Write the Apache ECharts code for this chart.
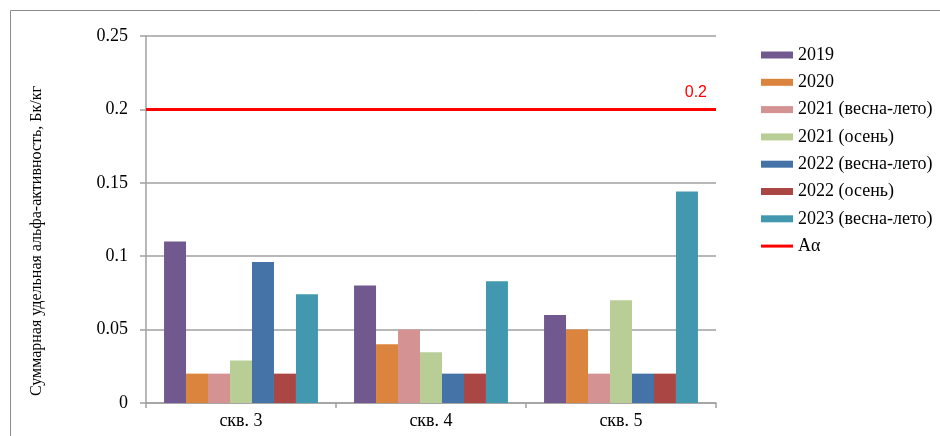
<!DOCTYPE html>
<html>
<head>
<meta charset="utf-8">
<script src="https://cdn.jsdelivr.net/npm/echarts@6/dist/echarts.min.js"></script>
<style>
  html, body { margin: 0; padding: 0; background: #fff; }
  #myChart { width: 940px; height: 436px; }
</style>
</head>
<body>
<div id="myChart"></div>
<script>
// данные
const categories = ['скв. 3', 'скв. 4', 'скв. 5'];
const s2019 = [0.11, 0.08, 0.06];
const s2020 = [0.02, 0.04, 0.05];
const s2021spring = [0.02, 0.05, 0.02];
const s2021autumn = [0.029, 0.0345, 0.07];
const s2022spring = [0.096, 0.02, 0.02];
const s2022autumn = [0.02, 0.02, 0.02];
const s2023spring = [0.074, 0.083, 0.144];
const limitValue = 0.2;
const yMin = 0, yMax = 0.25, yStep = 0.05;

const serif = 'Liberation Serif';

const barSeries = [
  { name: '2019', data: s2019, color: '#71588F' },
  { name: '2020', data: s2020, color: '#DB843D' },
  { name: '2021 (весна-лето)', data: s2021spring, color: '#D49392' },
  { name: '2021 (осень)', data: s2021autumn, color: '#B9CD96' },
  { name: '2022 (весна-лето)', data: s2022spring, color: '#4572A7' },
  { name: '2022 (осень)', data: s2022autumn, color: '#AA4643' },
  { name: '2023 (весна-лето)', data: s2023spring, color: '#4298AF' },
];

const myChart = echarts.init(document.getElementById('myChart'));

const option = {
  animation: false,
  grid: { left: 146, right: 224, top: 36, bottom: 33 },
  graphic: [
    {
      type: 'rect',
      shape: { x: 10.5, y: 10.5, width: 1000, height: 1000 },
      style: { fill: 'none', stroke: '#8c8c8c', lineWidth: 1 },
      silent: true,
    },
    {
      type: 'text',
      x: 37,
      y: 241,
      rotation: Math.PI / 2,
      style: {
        text: 'Суммарная удельная альфа-активность, Бк/кг',
        fontFamily: serif,
        fontSize: 16,
        fill: '#000',
        align: 'center',
        verticalAlign: 'middle',
      },
      silent: true,
    },
  ],
  legend: {
    orient: 'vertical',
    left: 756,
    top: 41,
    itemWidth: 32,
    itemHeight: 7,
    itemGap: 9.3,
    textStyle: { fontFamily: serif, fontSize: 18, lineHeight: 17, color: '#000' },
    data: barSeries.map(s => ({ name: s.name, icon: 'rect' })).concat([
      { name: 'Aα', icon: 'path://M0,0H32V3H0Z' },
    ]),
  },
  xAxis: {
    type: 'category',
    data: categories,
    axisLine: { show: true, lineStyle: { color: '#a0a0a0', width: 1.5 } },
    axisTick: { show: true, length: 5, lineStyle: { color: '#a0a0a0', width: 1.5 } },
    axisLabel: { margin: 9, fontFamily: serif, fontSize: 18, color: '#000' },
  },
  yAxis: {
    type: 'value',
    min: yMin,
    max: yMax,
    interval: yStep,
    axisLine: { show: true, lineStyle: { color: '#a0a0a0', width: 1.5 } },
    axisTick: { show: true, length: 6, lineStyle: { color: '#a0a0a0', width: 1.5 } },
    axisLabel: { margin: 18, fontFamily: serif, fontSize: 18, color: '#000' },
    splitLine: { show: true, lineStyle: { color: '#a0a0a0', width: 1.5 } },
  },
  series: barSeries.map(s => ({
    name: s.name,
    type: 'bar',
    data: s.data,
    barGap: '0%',
    barCategoryGap: '19%',
    itemStyle: { color: s.color },
    emphasis: { disabled: true },
  })).concat([
    {
      name: 'Aα',
      type: 'line',
      data: [],
      symbol: 'none',
      itemStyle: { color: '#ff0000' },
      lineStyle: { color: '#ff0000', width: 3 },
      markLine: {
        silent: true,
        symbol: ['none', 'none'],
        lineStyle: { color: '#ff0000', width: 3, type: 'solid' },
        label: {
          show: true,
          position: 'insideEndTop',
          formatter: '0.2',
          color: '#ff0000',
          fontFamily: 'Liberation Sans',
          fontSize: 16,
          distance: [9, 9],
        },
        data: [{ yAxis: limitValue }],
      },
    },
  ]),
};

myChart.setOption(option);
</script>
</body>
</html>
